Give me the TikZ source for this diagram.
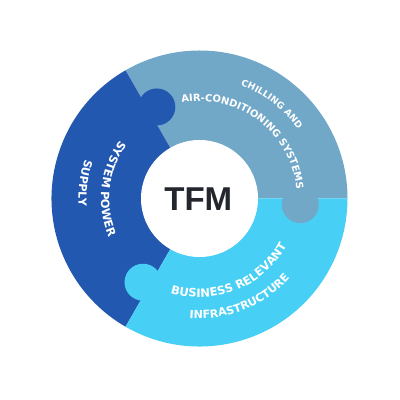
\documentclass[tikz,border=0pt]{standalone}
\usepackage{fontspec}
\usetikzlibrary{decorations.text}
\newfontfamily\segfont{DejaVu Sans}
\newfontfamily\tfmfont{Liberation Sans}
\definecolor{powerblue}{HTML}{2358B1}
\definecolor{chillblue}{HTML}{71A8C8}
\definecolor{infrablue}{HTML}{48CFF6}
\definecolor{tfmgrey}{HTML}{23262C}
\tikzset{
    segtext/.style 2 args={decorate, decoration={text along path, text align=center,
        text={|\segfont\bfseries\fontsize{#1}{#1}\selectfont\color{white}|#2}}}
}
\begin{document}
\begin{tikzpicture}[x=0.025cm,y=0.025cm]
    \def\outerR{148}
    \def\innerR{58.5}
    \def\knobR{18.5}
    \useasboundingbox[fill=white] (-199.5,-201.5) rectangle (200.5,198.5);
    % ring segments
    \fill[chillblue] (0,0) -- (0:\outerR) arc[start angle=0, end angle=120, radius=\outerR] -- cycle;
    \fill[powerblue] (0,0) -- (120:\outerR) arc[start angle=120, end angle=240, radius=\outerR] -- cycle;
    \fill[infrablue] (0,0) -- (240:\outerR) arc[start angle=240, end angle=360, radius=\outerR] -- cycle;
    % puzzle knobs
    \fill[powerblue] (115:101) circle[radius=\knobR];
    \fill[chillblue] (-3.5:101) circle[radius=\knobR];
    \fill[infrablue] (236:101) circle[radius=\knobR];
    \fill[white] (0,0) circle[radius=\innerR];
    \node[font=\tfmfont\bfseries\fontsize{23.5}{24}\selectfont, text=tfmgrey] (tfm) at (-1.2,-1) {TFM};
    % labels
    \path[segtext={6.5}{CHILLING AND}] (92.5:120.2) arc[start angle=92.5, end angle=12.5, radius=120.2];
    \path[segtext={7.05}{AIR-CONDITIONING SYSTEMS}] (112.9:97.4) arc[start angle=112.9, end angle=-7.1, radius=97.4];
    \path[segtext={8.1}{SYSTEM POWER}] (133.5:98.6) arc[start angle=133.5, end angle=213.5, radius=98.6];
    \path[segtext={7.9}{SUPPLY}] (142.5:121) arc[start angle=142.5, end angle=202.5, radius=121];
    \path[segtext={8.2}{BUSINESS RELEVANT}] (237.3:99) arc[start angle=237.3, end angle=347.3, radius=99];
    \path[segtext={7.9}{INFRASTRUCTURE}] (252:120) arc[start angle=252, end angle=332, radius=120];
\end{tikzpicture}
\end{document}
